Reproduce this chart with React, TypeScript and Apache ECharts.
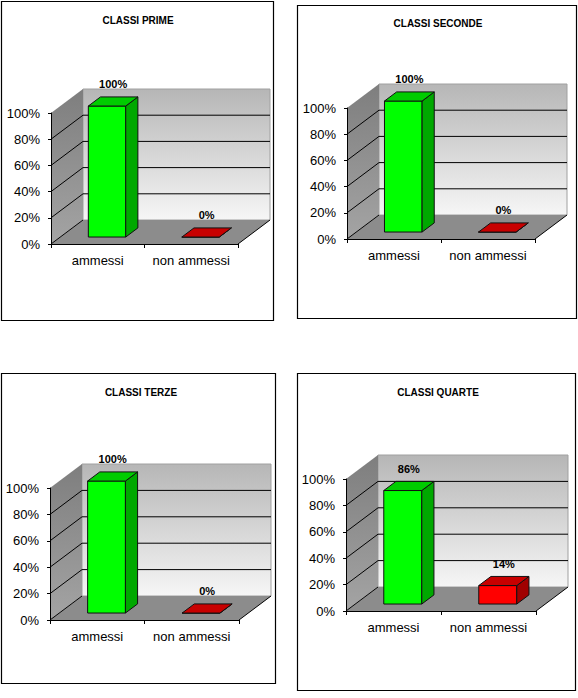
import { useEffect, useRef } from "react";
import * as echarts from "echarts";

const categories = ["ammessi", "non ammessi"];
const panelTitles = ["CLASSI PRIME", "CLASSI SECONDE", "CLASSI TERZE", "CLASSI QUARTE"];
const ammessi = [100, 100, 100, 86];
const nonAmmessi = [0, 0, 0, 14];
const wallTicks = [20, 40, 60, 80];

// front plane of each plot, box around each panel, title centre
const plots = [
  { left: 51, right: 238, top: 113, bottom: 244 },
  { left: 347, right: 535, top: 108, bottom: 239 },
  { left: 50, right: 239, top: 488, bottom: 620 },
  { left: 346, right: 536, top: 479, bottom: 611 },
];
const boxes = [
  [1, 1, 272, 319],
  [297, 5, 279, 313],
  [1, 373, 274, 310],
  [297, 373, 278, 317],
];
const titlePos = [
  [138, 20],
  [438, 23],
  [141, 392],
  [438, 392],
];

const DX = 32;
const DY = 24;
const D0 = 0.29;
const D1 = 0.67;
const FONT = "'Liberation Sans', Arial, sans-serif";

const barColors = [
  { front: "#00ff00", top: "#00cc00", side: "#00a800" },
  { front: "#ff0000", top: "#c80000", side: "#a00000" },
];

function wallsItem(params: any, api: any) {
  const cs = params.coordSys;
  const L = cs.x;
  const R = cs.x + cs.width;
  const T = cs.y;
  const B = cs.y + cs.height;
  const children: any[] = [
    {
      type: "rect",
      shape: { x: L + DX, y: T - DY, width: R - L, height: B - T },
      style: {
        fill: new echarts.graphic.LinearGradient(0, 0, 0, 1, [
          { offset: 0, color: "#b6b6b6" },
          { offset: 1, color: "#f6f6f6" },
        ]),
        stroke: "#a0a0a0",
        lineWidth: 1,
      },
    },
    {
      type: "polygon",
      shape: { points: [[L, T], [L + DX, T - DY], [L + DX, B - DY], [L, B]] },
      style: {
        fill: new echarts.graphic.LinearGradient(0, 0, 0, 1, [
          { offset: 0, color: "#7e7e7e" },
          { offset: 1, color: "#a4a4a4" },
        ]),
      },
    },
    {
      type: "polygon",
      shape: { points: [[L, B], [L + DX, B - DY], [R + DX, B - DY], [R, B]] },
      style: { fill: "#8c8c8c" },
    },
  ];
  wallTicks.forEach((v) => {
    const y = api.coord([0, v])[1];
    children.push({
      type: "line",
      shape: { x1: L + DX, y1: y - DY, x2: R + DX, y2: y - DY },
      style: { stroke: "#000", lineWidth: 1 },
    });
  });
  [0, ...wallTicks].forEach((v) => {
    const y = api.coord([0, v])[1];
    children.push({
      type: "line",
      shape: { x1: L, y1: y, x2: L + DX, y2: y - DY },
      style: { stroke: "#000", lineWidth: 1 },
    });
  });
  children.push({
    type: "line",
    shape: { x1: R, y1: B, x2: R + DX, y2: B - DY },
    style: { stroke: "#000", lineWidth: 1 },
  });
  return { type: "group", children };
}

function barItem(params: any, api: any) {
  const cat = api.value(0);
  const v = api.value(1);
  const top = api.coord([cat, v]);
  const base = api.coord([cat, 0]);
  const bw = api.size([1, 0])[0] * 0.4;
  const x0 = top[0] - bw / 2;
  const x1 = top[0] + bw / 2;
  const yt = top[1];
  const yb = base[1];
  const fx = D0 * DX, fy = D0 * DY, bx = D1 * DX, by = D1 * DY;
  const c = barColors[cat];
  const edge = { stroke: "#111", lineWidth: 1 };
  const dm = (D0 + D1) / 2;
  return {
    type: "group",
    children: [
      {
        type: "polygon",
        shape: { points: [[x0 + fx, yt - fy], [x1 + fx, yt - fy], [x1 + fx, yb - fy], [x0 + fx, yb - fy]] },
        style: { fill: c.front, ...edge },
      },
      {
        type: "polygon",
        shape: { points: [[x1 + fx, yt - fy], [x1 + bx, yt - by], [x1 + bx, yb - by], [x1 + fx, yb - fy]] },
        style: { fill: c.side, ...edge },
      },
      {
        type: "polygon",
        shape: { points: [[x0 + fx, yt - fy], [x0 + bx, yt - by], [x1 + bx, yt - by], [x1 + fx, yt - fy]] },
        style: { fill: c.top, ...edge },
      },
      {
        type: "text",
        x: top[0] + dm * DX,
        y: yt - dm * DY - 17,
        style: {
          text: v + "%",
          fill: "#000",
          font: `bold 11px ${FONT}`,
          align: "center",
          verticalAlign: "middle",
        },
      },
    ],
  };
}

export default function App() {
  const chartRef = useRef<HTMLDivElement>(null);

  useEffect(() => {
    const chart = echarts.init(chartRef.current, null, { renderer: "svg" });

    const grid = plots.map((p) => ({
      left: p.left,
      top: p.top,
      width: p.right - p.left,
      height: p.bottom - p.top,
    }));

    const xAxis = plots.map((_, i) => ({
      type: "category",
      gridIndex: i,
      data: categories,
      z: 3,
      axisLine: { lineStyle: { color: "#000", width: 1 } },
      axisTick: { show: true, interval: 0, length: 4, lineStyle: { color: "#000" } },
      axisLabel: {
        color: "#000",
        fontSize: 13,
        fontFamily: FONT,
        margin: 10,
        interval: 0,
        hideOverlap: false,
      },
    }));

    const yAxis = plots.map((_, i) => ({
      type: "value",
      gridIndex: i,
      min: 0,
      max: 100,
      interval: 20,
      z: 3,
      axisLine: { show: true, lineStyle: { color: "#000", width: 1 } },
      axisTick: { show: true, length: 3, lineStyle: { color: "#000" } },
      axisLabel: { color: "#000", fontSize: 13, fontFamily: FONT, margin: 11, formatter: "{value}%" },
      splitLine: { show: false },
    }));

    const series: any[] = [];
    plots.forEach((_, i) => {
      series.push({
        type: "custom",
        xAxisIndex: i,
        yAxisIndex: i,
        z: 1,
        clip: false,
        silent: true,
        data: [[0, 0]],
        renderItem: wallsItem,
      });
      series.push({
        type: "custom",
        name: panelTitles[i],
        xAxisIndex: i,
        yAxisIndex: i,
        z: 2,
        clip: false,
        data: [
          [0, ammessi[i]],
          [1, nonAmmessi[i]],
        ],
        renderItem: barItem,
      });
    });

    const graphic: any[] = [];
    boxes.forEach(([x, y, w, h]) => {
      graphic.push({
        type: "rect",
        shape: { x: x + 0.5, y: y + 0.5, width: w, height: h },
        style: { fill: "none", stroke: "#000", lineWidth: 1.2 },
      });
    });
    panelTitles.forEach((t, i) => {
      graphic.push({
        type: "text",
        x: titlePos[i][0],
        y: titlePos[i][1],
        style: {
          text: t,
          fill: "#000",
          font: `bold 10px ${FONT}`,
          align: "center",
          verticalAlign: "middle",
        },
      });
    });

    chart.setOption({
      animation: false,
      backgroundColor: "#fff",
      grid,
      xAxis,
      yAxis,
      series,
      graphic,
    });

    return () => {
      chart.dispose();
    };
  }, []);

  return (
    <div
      ref={chartRef}
      style={{ position: "fixed", left: 0, top: 0, width: "578px", height: "698px" }}
    />
  );
}
